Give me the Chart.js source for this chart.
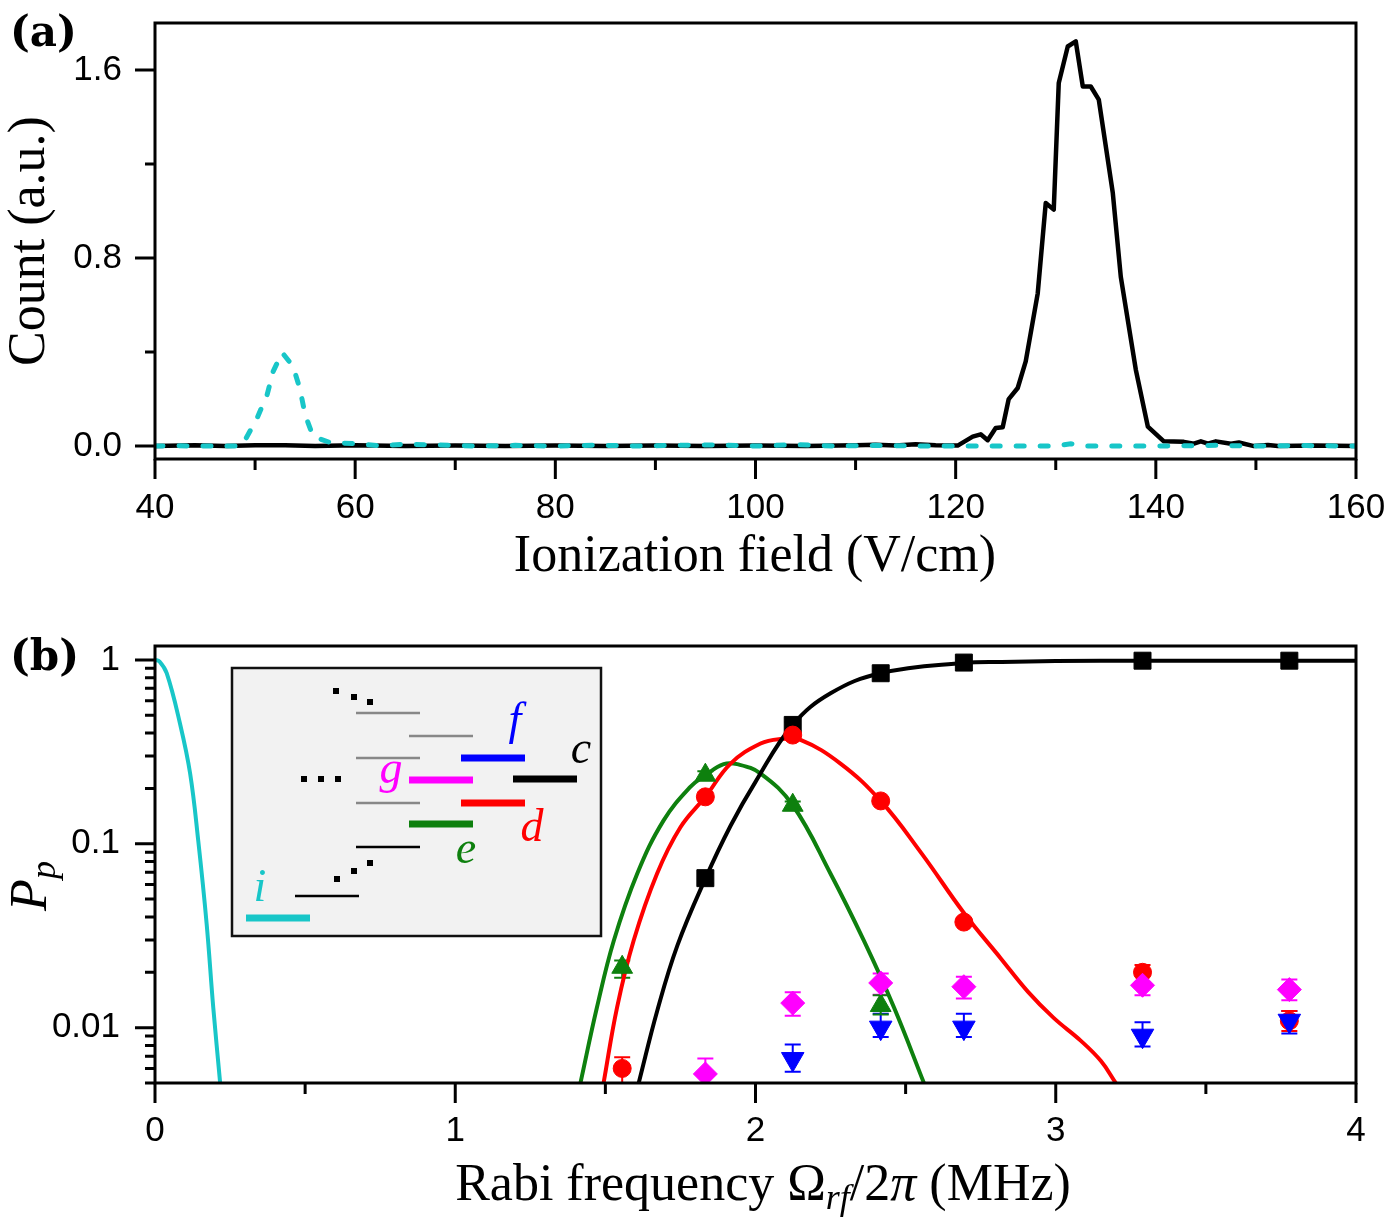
<!DOCTYPE html>
<html>
<head>
<meta charset="utf-8">
<script src="https://cdn.jsdelivr.net/npm/chart.js@4.4.1/dist/chart.umd.min.js"></script>
<style>
  html, body { margin: 0; padding: 0; background: #fff; }
  #wrap { position: relative; width: 1388px; height: 1217px; }
  canvas { position: absolute; left: 0; }
  #chartA { top: 0; }
  #chartB { top: 600px; }
</style>
</head>
<body>
<div id="wrap">
  <canvas id="chartA" width="1388" height="600"></canvas>
  <canvas id="chartB" width="1388" height="617"></canvas>
</div>
<script>
// ---------- panel (a): ionization spectra ----------
var fieldBlack = [40, 44, 47, 50, 53, 56, 60, 65, 70, 75, 80, 85, 90, 95, 100, 105, 110, 112, 114, 116,
  118, 120.2, 121.7, 122.5, 123.2, 124, 124.7, 125.3, 126.2, 127, 128.2, 129, 129.8, 130.3, 131.2, 132,
  132.7, 133.5, 134.3, 135.7, 136.5, 138, 139.2, 140.8, 142.8, 143.8, 144.5, 145.2, 146, 147.5, 148.3,
  149.8, 151.2, 152.2, 156, 160];
var countBlack = [0, 0.003, 0, 0.003, 0.004, 0, 0.003, 0, 0.002, 0, 0.002, 0, 0.002, 0, 0.002, 0, 0.003, 0.006, 0.002, 0.008,
  0.004, 0.002, 0.04, 0.05, 0.025, 0.077, 0.08, 0.2, 0.247, 0.36, 0.65, 1.034, 1.006, 1.545, 1.7, 1.722,
  1.53, 1.53, 1.474, 1.077, 0.72, 0.325, 0.083, 0.02, 0.018, 0.01, 0.02, 0.01, 0.02, 0.01, 0.015,
  0, 0.005, 0, 0.002, 0];

var fieldCyan = [40, 42, 44, 46, 48, 48.7, 50.2, 51.2, 51.8, 52.7, 53.8, 54.5, 55, 55.8, 57.5, 60.2, 62.5, 64.8, 68, 72,
  76, 80, 84, 88, 92, 96, 100, 104, 108, 112, 116, 120, 126, 130, 131.5, 133, 140, 146, 150, 155, 160];
var countCyan = [0, 0.002, 0, 0, 0, 0.002, 0.119, 0.218, 0.317, 0.398, 0.339, 0.24, 0.133, 0.041, 0.015, 0.01, 0.001, 0.008, 0.005, 0,
  0.003, 0, 0.004, 0, 0.003, 0.005, 0, 0.006, 0, 0.003, 0, 0, 0, 0, 0.01, 0, 0, 0.003, 0, 0.002, 0];

var xTicksA = [40, 60, 80, 100, 120, 140, 160];
var xTickLabelsA = ['40', '60', '80', '100', '120', '140', '160'];
var xMinorA = [50, 70, 90, 110, 130, 150];
var yTicksA = [0, 0.8, 1.6];
var yTickLabelsA = ['0.0', '0.8', '1.6'];
var yMinorA = [0.4, 1.2];

// ---------- panel (b): populations vs Rabi frequency ----------
var rabiPts = [1.556, 1.833, 2.124, 2.417, 2.694, 3.289, 3.778];
var popC = [null, 0.065, 0.443, 0.846, 0.967, 0.99, 0.99];
var popCLo = [null, 0.061, 0.425, 0.82, 0.95, 0.975, 0.975];
var popCHi = [null, 0.069, 0.46, 0.87, 0.985, 1.005, 1.005];
var popD = [0.006, 0.18, 0.39, 0.171, 0.0375, 0.020, 0.0109];
var popDLo = [0.0048, 0.172, 0.37, 0.165, 0.036, 0.0177, 0.0096];
var popDHi = [0.0069, 0.19, 0.41, 0.178, 0.0395, 0.0219, 0.0123];
var popE = [0.0213, 0.236, 0.162, 0.0132, null, null, null];
var popELo = [0.0187, 0.225, 0.155, 0.0118, null, null, null];
var popEHi = [0.0232, 0.248, 0.17, 0.015, null, null, null];
var popG = [null, 0.0056, 0.0136, 0.0175, 0.0167, 0.0170, 0.0161];
var popGLo = [null, 0.0048, 0.0116, 0.0151, 0.0144, 0.0150, 0.0141];
var popGHi = [null, 0.0068, 0.0156, 0.0197, 0.0189, 0.0194, 0.0183];
var popF = [null, null, 0.00675, 0.0100, 0.0100, 0.00904, 0.0109];
var popFLo = [null, null, 0.00575, 0.0089, 0.0089, 0.0079, 0.0093];
var popFHi = [null, null, 0.0081, 0.0119, 0.0119, 0.0107, 0.0123];

// simulated curves
var rabiI = [0, 0.015, 0.039, 0.083, 0.117, 0.144, 0.172, 0.194, 0.217];
var fitI = [1, 0.98, 0.846, 0.452, 0.241, 0.104, 0.0367, 0.0129, 0.005];
var rabiCurveC = [1.611, 1.673, 1.74, 1.833, 1.917, 2.0, 2.124, 2.25, 2.417, 2.694, 2.82, 3.0, 3.3, 3.6, 4.0];
var fitC = [0.005, 0.0124, 0.028, 0.0646, 0.1253, 0.2172, 0.443, 0.658, 0.846, 0.962, 0.975, 0.985, 0.99, 0.99, 0.99];
var rabiCurveD = [1.494, 1.539, 1.594, 1.672, 1.75, 1.833, 1.917, 2.017, 2.083, 2.15, 2.283, 2.417, 2.553, 2.693,
  2.817, 2.907, 2.993, 3.083, 3.15, 3.2];
var fitD = [0.005, 0.0129, 0.0297, 0.0687, 0.123, 0.18, 0.273, 0.351, 0.371, 0.367, 0.273, 0.171, 0.0887, 0.0423,
  0.0238, 0.0157, 0.0113, 0.0085, 0.0066, 0.005];
var rabiCurveE = [1.417, 1.472, 1.528, 1.606, 1.694, 1.783, 1.833, 1.894, 1.939, 2.017, 2.124, 2.25, 2.361, 2.461, 2.561];
var fitE = [0.005, 0.0129, 0.0297, 0.0687, 0.134, 0.204, 0.236, 0.271, 0.271, 0.241, 0.162, 0.0687, 0.0297, 0.0129, 0.005];

var xTicksB = [0, 1, 2, 3, 4];
var xTickLabelsB = ['0', '1', '2', '3', '4'];
var xMinorB = [0.5, 1.5, 2.5, 3.5];
var yTicksB = [0.01, 0.1, 1];
var yTickLabelsB = ['0.01', '0.1', '1'];

var CYAN = '#18c6c8', GREEN = '#0e800e', RED = '#ff0000', BLUE = '#0000ff', MAGENTA = '#ff00ff';
var SERIF = '"Liberation Serif", "Times New Roman", serif';
var SANS = '"Liberation Sans", Arial, sans-serif';

function pts(xs, ys, lo, hi) {
  var out = [];
  for (var i = 0; i < xs.length; i++) {
    if (ys[i] === null) continue;
    var p = { x: xs[i], y: ys[i] };
    if (lo) { p.lo = lo[i]; p.hi = hi[i]; }
    out.push(p);
  }
  return out;
}

function logMinor(min, max) {
  var out = [];
  for (var d = 0.001; d < 10; d *= 10) {
    for (var k = 2; k <= 9; k++) {
      var v = k * d;
      if (v >= min * 0.999 && v <= max) out.push(v);
    }
  }
  return out;
}

// keep the plot box where it belongs: no extra room for edge labels
function fixBox(s, w, h) {
  if (w) s.width = w;
  if (h) s.height = h;
  s.paddingLeft = 0; s.paddingRight = 0; s.paddingTop = 0; s.paddingBottom = 0;
}

// outward tick marks + closed box
function makeFrame(cfg) {
  return {
    id: 'frame',
    afterDraw: function (chart) {
      var ctx = chart.ctx, a = chart.chartArea;
      var xs = chart.scales.x, ys = chart.scales.y;
      ctx.save();
      ctx.strokeStyle = '#000';
      ctx.lineWidth = 3;
      ctx.beginPath();
      function xt(v, len) { var p = xs.getPixelForValue(v); ctx.moveTo(p, a.bottom); ctx.lineTo(p, a.bottom + len); }
      function yt(v, len) { var p = ys.getPixelForValue(v); ctx.moveTo(a.left, p); ctx.lineTo(a.left - len, p); }
      cfg.xMajor.forEach(function (v) { xt(v, 20); });
      cfg.xMinor.forEach(function (v) { xt(v, 11); });
      cfg.yMajor.forEach(function (v) { yt(v, 20); });
      cfg.yMinor.forEach(function (v) { yt(v, 10); });
      ctx.stroke();
      ctx.strokeRect(a.left, a.top, a.right - a.left, a.bottom - a.top);
      ctx.restore();
    }
  };
}

function drawRich(ctx, parts, x, y, rotate, align) {
  ctx.save();
  ctx.translate(x, y);
  if (rotate) ctx.rotate(-Math.PI / 2);
  ctx.textBaseline = 'alphabetic';
  ctx.textAlign = 'left';
  var total = 0;
  parts.forEach(function (p) { ctx.font = p.font; p.w = ctx.measureText(p.text).width; total += p.w; });
  var cx = align === 'left' ? 0 : -total / 2;
  parts.forEach(function (p) {
    ctx.font = p.font;
    ctx.fillStyle = p.color || '#000';
    ctx.fillText(p.text, cx, p.dy || 0);
    cx += p.w;
  });
  ctx.restore();
}

function makeTexts(items) {
  return {
    id: 'texts',
    afterDraw: function (chart) {
      items.forEach(function (it) { drawRich(chart.ctx, it.parts, it.x, it.y, it.rotate, it.align); });
    }
  };
}

var errorBars = {
  id: 'errorBars',
  beforeDatasetsDraw: function (chart) {
    var ctx = chart.ctx, a = chart.chartArea, ys = chart.scales.y;
    ctx.save();
    ctx.beginPath();
    ctx.rect(a.left, a.top, a.right - a.left, a.bottom - a.top);
    ctx.clip();
    chart.data.datasets.forEach(function (ds, di) {
      var meta = chart.getDatasetMeta(di);
      ds.data.forEach(function (d, i) {
        if (d.lo === undefined) return;
        var el = meta.data[i];
        var x = el.x, y1 = ys.getPixelForValue(d.lo), y2 = ys.getPixelForValue(d.hi);
        ctx.strokeStyle = ds.pointBackgroundColor;
        ctx.lineWidth = 2;
        ctx.beginPath();
        ctx.moveTo(x, y1); ctx.lineTo(x, y2);
        ctx.moveTo(x - 8, y1); ctx.lineTo(x + 8, y1);
        ctx.moveTo(x - 8, y2); ctx.lineTo(x + 8, y2);
        ctx.stroke();
      });
    });
    ctx.restore();
  }
};

// level scheme inset of panel (b)
var inset = {
  id: 'inset',
  afterDraw: function (chart) {
    var ctx = chart.ctx;
    var ox = 232, oy = 68;
    ctx.save();
    ctx.translate(ox, oy);
    ctx.fillStyle = '#f2f2f2';
    ctx.fillRect(0, 0, 369, 268);
    ctx.strokeStyle = '#111';
    ctx.lineWidth = 2.5;
    ctx.strokeRect(0, 0, 369, 268);
    function lvl(x, y, color, w) {
      ctx.strokeStyle = color; ctx.lineWidth = w;
      ctx.beginPath(); ctx.moveTo(x, y); ctx.lineTo(x + 64, y); ctx.stroke();
    }
    lvl(124, 45, '#888', 2.5);
    lvl(177, 68, '#888', 2.5);
    lvl(124, 90, '#888', 2.5);
    lvl(229, 90, BLUE, 7);
    lvl(281, 111, '#000', 7);
    lvl(177, 112, MAGENTA, 7);
    lvl(124, 135, '#888', 2.5);
    lvl(229, 135, RED, 7);
    lvl(177, 156, GREEN, 7);
    lvl(124, 179, '#000', 2.5);
    lvl(63, 228, '#000', 2.5);
    lvl(14, 250, CYAN, 7);
    ctx.fillStyle = '#000';
    [[104, 23], [122, 29], [138, 34], [72, 111], [89, 111], [106, 111], [105, 211], [122, 203], [138, 195]].forEach(function (p) {
      ctx.fillRect(p[0] - 3, p[1] - 3, 6, 6);
    });
    ctx.restore();
    var it = 'italic 46px ' + SERIF;
    drawRich(ctx, [{ text: 'f', font: it, color: BLUE }], 515, 134);
    drawRich(ctx, [{ text: 'c', font: it, color: '#000' }], 581, 163);
    drawRich(ctx, [{ text: 'g', font: it, color: MAGENTA }], 391, 183);
    drawRich(ctx, [{ text: 'd', font: it, color: RED }], 532, 241);
    drawRich(ctx, [{ text: 'e', font: it, color: GREEN }], 466, 263);
    drawRich(ctx, [{ text: 'i', font: it, color: CYAN }], 260, 301);
  }
};

var tickFont = { family: SANS, size: 35 };

// ---------- chart (a) ----------
new Chart(document.getElementById('chartA'), {
  type: 'line',
  data: {
    datasets: [
      { data: pts(fieldCyan, countCyan), borderColor: CYAN, borderWidth: 5, borderDash: [8, 16],
        borderCapStyle: 'round', pointRadius: 0, tension: 0 },
      { data: pts(fieldBlack, countBlack), borderColor: '#000', borderWidth: 4.5, borderJoinStyle: 'round',
        pointRadius: 0, tension: 0 }
    ]
  },
  options: {
    responsive: false, animation: false, events: [],
    layout: { padding: { left: 0, right: 32, top: 23, bottom: 0 } },
    plugins: { legend: { display: false }, tooltip: { enabled: false } },
    scales: {
      x: {
        type: 'linear', min: 40, max: 160,
        grid: { display: false, drawTicks: false }, border: { display: false },
        afterBuildTicks: function (s) { s.ticks = xTicksA.map(function (v) { return { value: v }; }); },
        afterFit: function (s) { fixBox(s, 0, 141); },
        ticks: { padding: 28, color: '#000', font: tickFont, maxRotation: 0, autoSkip: false,
          callback: function (v, i) { return xTickLabelsA[i]; } }
      },
      y: {
        type: 'linear', min: -0.055, max: 1.80,
        grid: { display: false, drawTicks: false }, border: { display: false },
        afterBuildTicks: function (s) { s.ticks = yTicksA.map(function (v) { return { value: v }; }); },
        afterFit: function (s) { fixBox(s, 155, 0); },
        ticks: { padding: 33, color: '#000', font: tickFont, autoSkip: false,
          callback: function (v, i) { return yTickLabelsA[i]; } }
      }
    }
  },
  plugins: [
    makeFrame({ xMajor: xTicksA, xMinor: xMinorA, yMajor: yTicksA, yMinor: yMinorA }),
    makeTexts([
      { parts: [{ text: '(a)', font: 'bold 42px "DejaVu Serif", serif' }], x: 10, y: 46, align: 'left' },
      { parts: [{ text: 'Count (a.u.)', font: '52px ' + SERIF }], x: 44, y: 241, rotate: true },
      { parts: [{ text: 'Ionization field (V/cm)', font: '52px ' + SERIF }], x: 755, y: 571 }
    ])
  ]
});

// ---------- chart (b) ----------
function markers(ys, lo, hi, color, style, r, rot) {
  return { data: pts(rabiPts, ys, lo, hi), showLine: false, pointStyle: style, pointRadius: r,
    pointRotation: rot || 0, pointBackgroundColor: color, pointBorderColor: color, pointBorderWidth: 1,
    borderColor: color };
}
function curve(xs, ys, color) {
  return { data: pts(xs, ys), borderColor: color, borderWidth: 4, pointRadius: 0, tension: 0.4 };
}

new Chart(document.getElementById('chartB'), {
  type: 'line',
  data: {
    datasets: [
      markers(popF, popFLo, popFHi, BLUE, 'triangle', 13, 180),
      markers(popG, popGLo, popGHi, MAGENTA, 'rectRot', 12),
      markers(popD, popDLo, popDHi, RED, 'circle', 9),
      markers(popE, popELo, popEHi, GREEN, 'triangle', 12),
      markers(popC, popCLo, popCHi, '#000', 'rect', 12),
      curve(rabiCurveC, fitC, '#000'),
      curve(rabiCurveD, fitD, RED),
      curve(rabiCurveE, fitE, GREEN),
      curve(rabiI, fitI, CYAN)
    ]
  },
  options: {
    responsive: false, animation: false, events: [],
    layout: { padding: { left: 0, right: 32, top: 46, bottom: 0 } },
    plugins: { legend: { display: false }, tooltip: { enabled: false } },
    scales: {
      x: {
        type: 'linear', min: 0, max: 4,
        grid: { display: false, drawTicks: false }, border: { display: false },
        afterBuildTicks: function (s) { s.ticks = xTicksB.map(function (v) { return { value: v }; }); },
        afterFit: function (s) { fixBox(s, 0, 134); },
        ticks: { padding: 27, color: '#000', font: tickFont, maxRotation: 0, autoSkip: false,
          callback: function (v, i) { return xTickLabelsB[i]; } }
      },
      y: {
        type: 'logarithmic', min: 0.005, max: 1.19,
        grid: { display: false, drawTicks: false }, border: { display: false },
        afterBuildTicks: function (s) { s.ticks = yTicksB.map(function (v) { return { value: v }; }); },
        afterFit: function (s) { fixBox(s, 155, 0); },
        ticks: { padding: 35, color: '#000', font: tickFont, autoSkip: false,
          callback: function (v, i) { return yTickLabelsB[i]; } }
      }
    }
  },
  plugins: [
    errorBars,
    makeFrame({ xMajor: xTicksB, xMinor: xMinorB, yMajor: yTicksB, yMinor: logMinor(0.005, 1.19) }),
    inset,
    makeTexts([
      { parts: [{ text: '(b)', font: 'bold 42px "DejaVu Serif", serif' }], x: 10, y: 70, align: 'left' },
      { parts: [{ text: 'P', font: 'italic 52px ' + SERIF }, { text: 'p', font: 'italic 36px ' + SERIF, dy: 9 }],
        x: 46, y: 286, rotate: true },
      { parts: [
          { text: 'Rabi frequency \u03a9', font: '52px ' + SERIF },
          { text: 'rf', font: 'italic 36px ' + SERIF, dy: 9 },
          { text: '/2', font: '52px ' + SERIF },
          { text: '\u03c0', font: 'italic 52px ' + SERIF },
          { text: ' (MHz)', font: '52px ' + SERIF }
        ], x: 763, y: 600 }
    ])
  ]
});
</script>
</body>
</html>
